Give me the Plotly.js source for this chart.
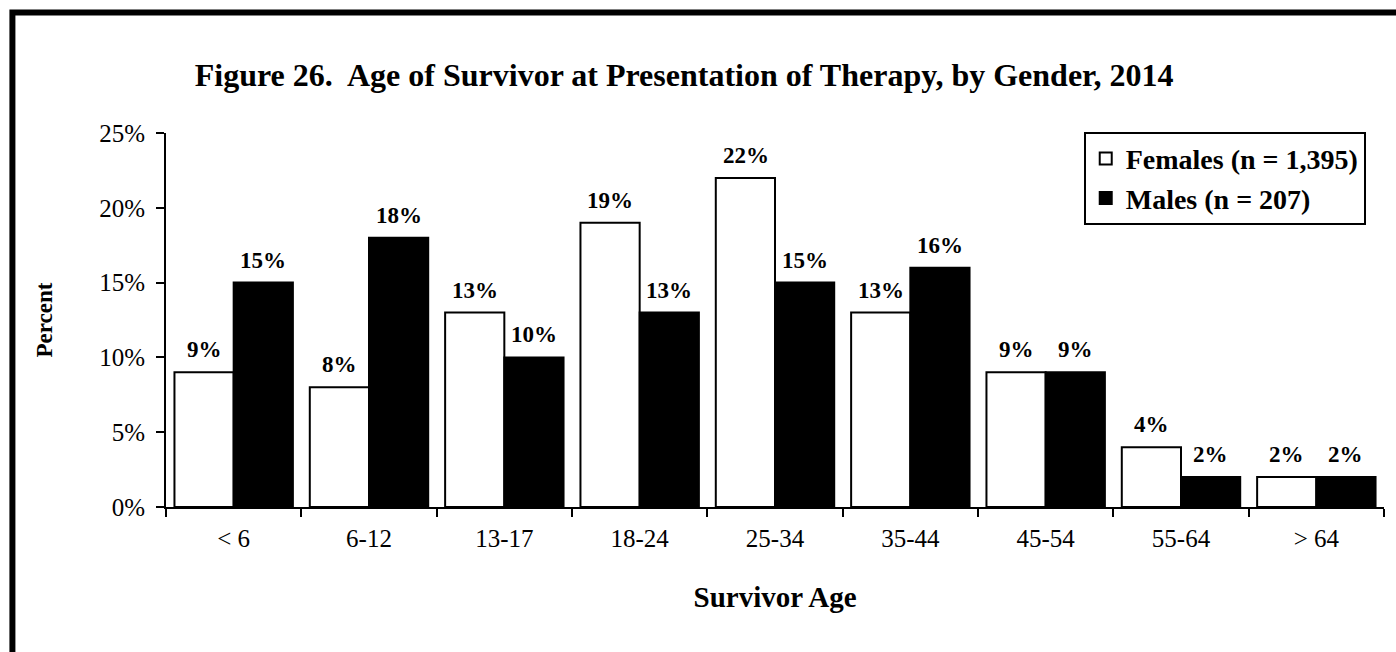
<!DOCTYPE html>
<html>
<head>
<meta charset="utf-8">
<script src="https://cdn.plot.ly/plotly-3.0.1.min.js"></script>
<style>html,body{margin:0;padding:0;background:#fff;}#chart{width:1396px;height:652px;}</style>
</head>
<body>
<div id="chart"></div>
<script>
var categories = ['< 6', '6-12', '13-17', '18-24', '25-34', '35-44', '45-54', '55-64', '> 64'];
var females = [9, 8, 13, 19, 22, 13, 9, 4, 2];
var males = [15, 18, 10, 13, 15, 16, 9, 2, 2];
var femaleName = 'Females (n = 1,395)';
var maleName = 'Males (n = 207)';
var yTicks = [0, 5, 10, 15, 20, 25];

var serif = '"Liberation Serif", "Times New Roman", serif';

var traces = [
  {type: 'bar', name: '<b>' + femaleName + '</b>', x: categories, y: females,
   marker: {color: '#ffffff', line: {color: '#000000', width: 2}}, hoverinfo: 'none'},
  {type: 'bar', name: '<b>' + maleName + '</b>', x: categories, y: males,
   marker: {color: '#000000', line: {color: '#000000', width: 2}}, hoverinfo: 'none'}
];

var annotations = [];
var half = 29.5;
categories.forEach(function (c, i) {
  annotations.push({x: c, y: females[i], xref: 'x', yref: 'y', text: '<b>' + females[i] + '%</b>',
    showarrow: false, yanchor: 'bottom', xshift: -half, yshift: 8, font: {family: serif, size: 23, color: '#000'}});
  annotations.push({x: c, y: males[i], xref: 'x', yref: 'y', text: '<b>' + males[i] + '%</b>',
    showarrow: false, yanchor: 'bottom', xshift: half, yshift: 8, font: {family: serif, size: 23, color: '#000'}});
});

var layout = {
  width: 1396, height: 652,
  margin: {l: 166, r: 12, t: 133, b: 145},
  paper_bgcolor: '#ffffff', plot_bgcolor: '#ffffff',
  barmode: 'group', bargap: 0.125, bargroupgap: 0,
  font: {family: serif, color: '#000'},
  title: {text: '<b>Figure 26.  Age of Survivor at Presentation of Therapy, by Gender, 2014</b>',
    font: {family: serif, size: 32, color: '#000'}, x: 0.49, xanchor: 'center', y: 0.885, yanchor: 'middle'},
  xaxis: {type: 'category', tickson: 'boundaries', ticks: 'outside', ticklen: 8, tickwidth: 2, tickcolor: '#000',
    showline: true, linecolor: '#000', linewidth: 2, showgrid: false, zeroline: false,
    tickfont: {family: serif, size: 25, color: '#000'}, ticklabelstandoff: 8,
    title: {text: '<b>Survivor Age</b>', font: {family: serif, size: 29, color: '#000'}, standoff: 36}},
  yaxis: {range: [0, 25], tickvals: yTicks, ticktext: yTicks.map(function (v) { return v + '%'; }),
    ticks: 'outside', ticklen: 8, tickwidth: 2, tickcolor: '#000',
    showline: true, linecolor: '#000', linewidth: 2, showgrid: false, zeroline: false,
    tickfont: {family: serif, size: 25, color: '#000'}, ticklabelstandoff: 6,
    title: {text: '<b>Percent</b>', font: {family: serif, size: 23, color: '#000'}, standoff: 40}},
  showlegend: true,
  legend: {x: 0.985, xanchor: 'right', y: 1.003, yanchor: 'top', bgcolor: '#fff',
    bordercolor: '#000', borderwidth: 2, font: {family: serif, size: 28, color: '#000'},
    itemwidth: 30, tracegroupgap: 0},
  annotations: annotations,
  shapes: [{type: 'rect', xref: 'paper', yref: 'paper', x0: -0.1261, x1: 1.05, y0: -0.45, y1: 1.3222,
    line: {color: '#000', width: 6}, fillcolor: 'rgba(0,0,0,0)', layer: 'above'}]
};

Plotly.newPlot('chart', traces, layout, {displayModeBar: false, staticPlot: true});
</script>
</body>
</html>
